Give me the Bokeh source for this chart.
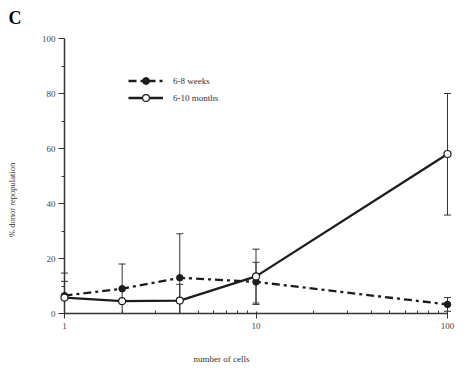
import math
from bokeh.plotting import figure
from bokeh.models import (Range1d, Legend, LegendItem, FixedTicker, NumeralTickFormatter)
from bokeh.core.properties import value
from bokeh.embed import file_html
from bokeh.resources import INLINE

# ---- data ----
cells = [1, 2, 4, 10, 100]
weeks_y = [6.5, 9.0, 13.0, 11.5, 3.3]        # 6-8 weeks (filled)
months_y = [5.8, 4.5, 4.7, 13.5, 58.0]       # 6-10 months (open)

weeks_err_x = [1, 2, 4, 10, 100]
weeks_upper = [14.7, 18.0, 29.0, 18.6, 5.8]
weeks_lower = [0.0, 0.0, 0.0, 3.8, 0.8]

months_err_x = [1, 4, 10, 100]
months_upper = [11.7, 10.6, 23.4, 80.0]
months_lower = [0.0, 0.0, 3.3, 35.8]

y_ticks = [0, 20, 40, 60, 80, 100]
x_ticks = [1, 10, 100]

SERIF = "Liberation Serif"
INK = "#1c1c1c"
BAR = "#333333"

p = figure(width=474, height=378, x_axis_type="log",
           x_range=Range1d(1, 100), y_range=Range1d(0, 100),
           output_backend="svg", toolbar_location=None,
           min_border_left=64, min_border_right=27,
           min_border_top=38, min_border_bottom=65)
p.grid.visible = False
p.outline_line_color = None
p.background_fill_color = "white"

# axes
for ax in (p.xaxis[0], p.yaxis[0]):
    ax.axis_line_color = "#333333"
    ax.axis_line_width = 1.5
    ax.major_tick_line_color = "#333333"
    ax.minor_tick_line_color = "#333333"
    ax.major_label_text_font = SERIF
    ax.major_label_text_font_size = "9px"
    ax.major_label_text_color = "#444444"

p.yaxis.ticker = FixedTicker(ticks=y_ticks, minor_ticks=[10, 30, 50, 70, 90])
p.yaxis.major_tick_out = 6
p.yaxis.major_tick_in = 0
p.yaxis.minor_tick_out = 3
p.yaxis.minor_tick_in = 0
p.yaxis.major_label_standoff = 3

p.xaxis.ticker = FixedTicker(ticks=x_ticks,
                             minor_ticks=[2, 3, 4, 5, 6, 7, 8, 9, 20, 30, 40, 50, 60, 70, 80, 90])
p.xaxis.formatter = NumeralTickFormatter(format="0")
p.xaxis.major_tick_out = 5
p.xaxis.major_tick_in = 2
p.xaxis.minor_tick_out = 0
p.xaxis.minor_tick_in = 3
p.xaxis.major_label_standoff = 4

# error bars (unclipped overlay glyphs)
for ex, up, lo in ((weeks_err_x, weeks_upper, weeks_lower),
                   (months_err_x, months_upper, months_lower)):
    p.segment(x0=ex, y0=lo, x1=ex, y1=up, line_color=BAR, line_width=1, level="overlay")
    p.scatter(ex, up, marker="dash", size=7, line_color=BAR, line_width=1, level="overlay")
    p.scatter(ex, lo, marker="dash", size=7, line_color=BAR, line_width=1, level="overlay")

# series
l1 = p.line(cells, weeks_y, line_color=INK, line_width=2.3, line_dash="8 4 3 4", level="overlay")
s1 = p.scatter(cells, weeks_y, size=6.5, marker="circle", fill_color=INK, line_color=INK, level="overlay")
l2 = p.line(cells, months_y, line_color=INK, line_width=2.3, level="overlay")
s2 = p.scatter(cells, months_y, size=7, marker="circle", fill_color="white", line_color=INK,
               line_width=1.2, level="overlay")

legend = Legend(items=[LegendItem(label="6-8 weeks", renderers=[l1, s1]),
                       LegendItem(label="6-10 months", renderers=[l2, s2])],
                location=(64, 207), padding=0, margin=0, spacing=0,
                glyph_width=35, glyph_height=17, label_height=17,
                label_standoff=10, border_line_alpha=0, background_fill_alpha=0,
                label_text_font=SERIF, label_text_font_size="9px", label_text_color="#333333")
p.add_layout(legend)

# texts (as unclipped overlay glyphs)
p.text(x=[0.51], y=[107.3], text=["C"], text_font=value(SERIF), text_font_style="bold",
       text_font_size="18px", text_color="black", text_align="left",
       text_baseline="middle", level="overlay")
p.text(x=[0.535], y=[41.3], text=["% donor repopulation"], angle=math.pi / 2,
       text_font=value(SERIF), text_font_size="8.5px", text_color="#333333",
       text_align="center", text_baseline="middle", level="overlay")
p.text(x=[6.6], y=[-16.5], text=["number of cells"], text_font=value(SERIF),
       text_font_size="9px", text_color="#333333",
       text_align="center", text_baseline="middle", level="overlay")

open("out.html", "w").write(file_html(p, INLINE))
